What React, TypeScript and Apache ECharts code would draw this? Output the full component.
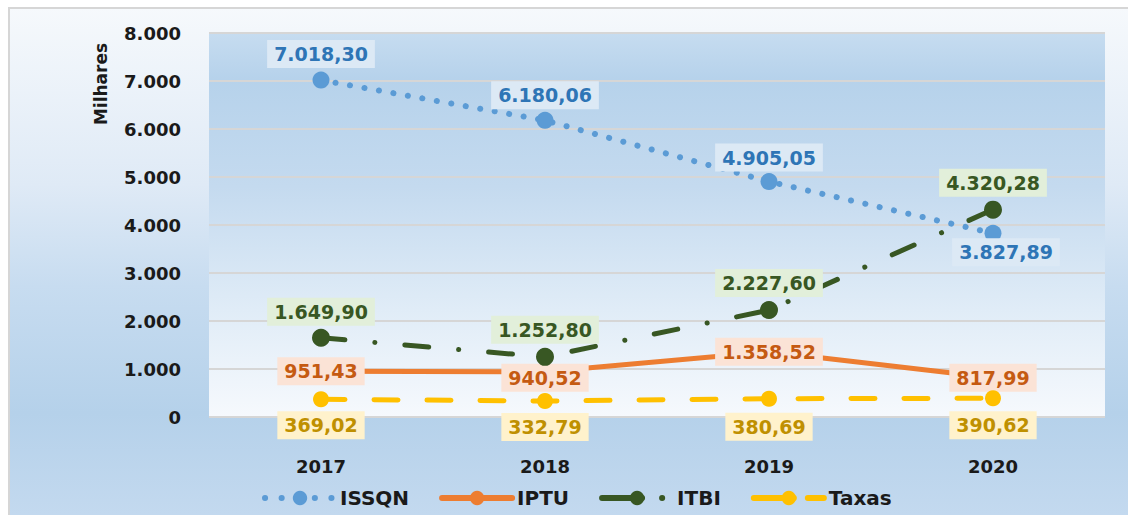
import React, { useEffect, useRef } from "react";
import * as echarts from "echarts";

const years = ["2017", "2018", "2019", "2020"];
const issqn = [7018.3, 6180.06, 4905.05, 3827.89];
const iptu = [951.43, 940.52, 1358.52, 817.99];
const itbi = [1649.9, 1252.8, 2227.6, 4320.28];
const taxas = [369.02, 332.79, 380.69, 390.62];
const yTicks = [0, 1000, 2000, 3000, 4000, 5000, 6000, 7000, 8000];
const seriesNames = ["ISSQN", "IPTU", "ITBI", "Taxas"];

// label offsets (layout only)
const issqnOffsets = [[0, -26], [0, -25], [0, -24], [13, 19]];
const iptuOffsets = [[0, 0], [0, 6], [0, 0], [0, 0]];
const itbiOffsets = [[0, -26], [0, -27], [0, -27], [0, -27]];
const taxasOffsets = [[0, 26], [0, 26], [0, 28], [0, 27]];

const FONT = "'DejaVu Sans', Verdana, sans-serif";

function thousands(n: number): string {
  const s = Math.round(n).toString();
  return s.replace(/\B(?=(\d{3})+(?!\d))/g, ".");
}
function fmt2(n: number): string {
  const fixed = n.toFixed(2);
  const [i, d] = fixed.split(".");
  return thousands(parseInt(i, 10)) + "," + d;
}

function mkData(values: number[], offsets: number[][]) {
  return values.map((v, i) => ({ value: v, label: { offset: offsets[i] } }));
}

export default function App() {
  const ref = useRef<HTMLDivElement>(null);
  useEffect(() => {
    if (!ref.current) return;
    const chart = echarts.init(ref.current, undefined, { renderer: "svg" });
    const labelBase = (color: string, bg: string) => ({
      show: true,
      position: "inside",
      formatter: (p: any) => fmt2(p.value),
      fontFamily: FONT,
      fontWeight: "bold",
      fontSize: 19,
      color,
      backgroundColor: bg,
      padding: [5, 7, 4, 7],
    });
    const option: any = {
      animation: false,
      backgroundColor: {
        type: "linear",
        x: 0, y: 0, x2: 0, y2: 1,
        colorStops: [
          { offset: 0, color: "#f6f9fc" },
          { offset: 0.35, color: "#dfeaf6" },
          { offset: 0.55, color: "#c7dcf0" },
          { offset: 0.8, color: "#b5d1ea" },
          { offset: 1, color: "#c3d9ef" },
        ],
      },
      graphic: [
        { type: "line", shape: { x1: 0, y1: 1, x2: 1120, y2: 1 }, style: { stroke: "#d6d6d6", lineWidth: 2 } },
        { type: "line", shape: { x1: 1, y1: 0, x2: 1, y2: 508 }, style: { stroke: "#d6d6d6", lineWidth: 2 } },
        {
          type: "text",
          x: 93,
          y: 77,
          rotation: Math.PI / 2,
          style: {
            text: "Milhares",
            fill: "#1a1a1a",
            font: `bold 17px ${FONT}`,
            align: "center",
            verticalAlign: "middle",
          },
        },
      ],
      grid: {
        left: 201,
        top: 26,
        width: 896,
        height: 384,
        show: true,
        borderWidth: 0,
        backgroundColor: {
          type: "linear",
          x: 0, y: 0, x2: 0, y2: 1,
          colorStops: [
            { offset: 0, color: "#c6dcf0" },
            { offset: 0.12, color: "#b6d2eb" },
            { offset: 0.4, color: "#c4daef" },
            { offset: 0.72, color: "#e0ecf7" },
            { offset: 1, color: "#f6f9fd" },
          ],
        },
      },
      legend: {
        left: 249,
        top: 476,
        itemWidth: 70,
        itemHeight: 18,
        itemGap: 30,
        textStyle: { fontFamily: FONT, fontWeight: "bold", fontSize: 20, color: "#1a1a1a" },
        data: [
          { name: seriesNames[0], lineStyle: { width: 6, type: [0.1, 16.5], cap: "round" } },
          { name: seriesNames[1], lineStyle: { width: 6, type: "solid", cap: "round" } },
          { name: seriesNames[2], lineStyle: { width: 6, type: [40, 20, 0.1, 30], cap: "round" } },
          { name: seriesNames[3], lineStyle: { width: 6, type: [40, 14, 16, 30], cap: "round" } },
        ],
      },
      xAxis: {
        type: "category",
        data: years,
        boundaryGap: true,
        axisLine: { show: false },
        axisTick: { show: false },
        axisLabel: { margin: 40, fontFamily: FONT, fontWeight: "bold", fontSize: 18, color: "#1a1a1a" },
      },
      yAxis: {
        type: "value",
        min: yTicks[0],
        max: yTicks[yTicks.length - 1],
        interval: 1000,
        axisLine: { show: false },
        axisTick: { show: false },
        splitLine: { lineStyle: { color: "#d6d6d6", width: 2 } },
        axisLabel: {
          margin: 28,
          fontFamily: FONT,
          fontWeight: "bold",
          fontSize: 18,
          color: "#1a1a1a",
          formatter: (v: number) => thousands(v),
        },
      },
      series: [
        {
          name: seriesNames[0],
          type: "line",
          data: mkData(issqn, issqnOffsets),
          symbol: "circle",
          symbolSize: 17,
          color: "#5b9bd5",
          lineStyle: { color: "#5b9bd5", width: 6, type: [0.1, 14.6], cap: "round" },
          itemStyle: { color: "#5b9bd5" },
          label: labelBase("#2e75b6", "#dce9f5"),
          z: 2,
        },
        {
          name: seriesNames[1],
          type: "line",
          data: mkData(iptu, iptuOffsets),
          symbol: "circle",
          symbolSize: 14,
          color: "#ed7d31",
          lineStyle: { color: "#ed7d31", width: 5, cap: "round" },
          itemStyle: { color: "#ed7d31" },
          label: labelBase("#c55a11", "#fbe3d6"),
          z: 3,
        },
        {
          name: seriesNames[2],
          type: "line",
          data: mkData(itbi, itbiOffsets),
          symbol: "circle",
          symbolSize: 18,
          color: "#385723",
          lineStyle: { color: "#385723", width: 5, type: [24, 30, 0.1, 30], cap: "round" },
          itemStyle: { color: "#385723" },
          label: labelBase("#385723", "#e2efda"),
          z: 4,
        },
        {
          name: seriesNames[3],
          type: "line",
          data: mkData(taxas, taxasOffsets),
          symbol: "circle",
          symbolSize: 16,
          color: "#ffc000",
          lineStyle: { color: "#ffc000", width: 5, type: [24, 29], cap: "round" },
          itemStyle: { color: "#ffc000" },
          label: labelBase("#bf9000", "#fff2cc"),
          z: 5,
        },
      ],
    };
    chart.setOption(option);
    return () => chart.dispose();
  }, []);
  return (
    <div style={{ position: "fixed", left: 0, top: 0, width: "100vw", height: "100vh", overflow: "hidden" }}>
      <div ref={ref} style={{ position: "absolute", left: 8, top: 7, width: 1120, height: 508 }} />
    </div>
  );
}
